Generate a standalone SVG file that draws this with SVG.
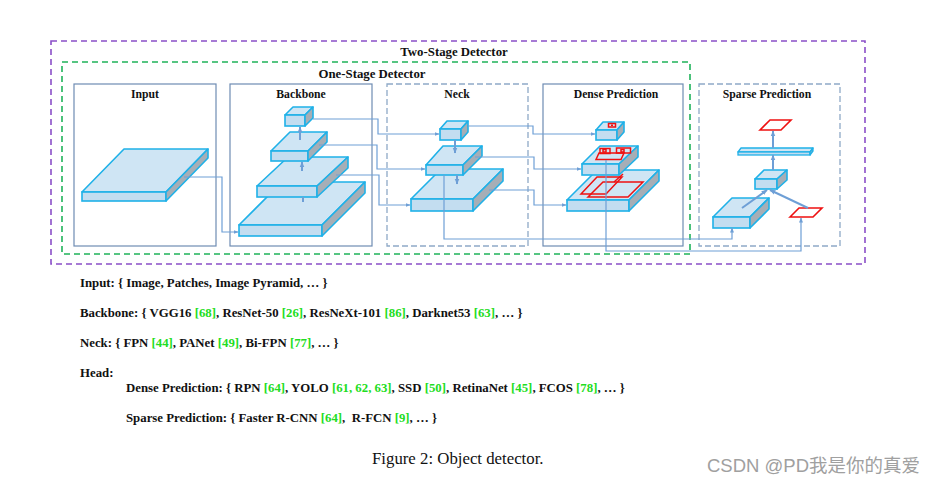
<svg xmlns="http://www.w3.org/2000/svg" width="936" height="485" viewBox="0 0 936 485">
<defs>
<style>
.bg{fill:#ffffff}
.outer{fill:none;stroke:#8a4fc8;stroke-width:1.6;stroke-dasharray:6,4}
.green{fill:none;stroke:#1fb35a;stroke-width:1.6;stroke-dasharray:6,4}
.solid{fill:#ffffff;stroke:#6e8cb3;stroke-width:1.2}
.dashed{fill:#ffffff;stroke:#8ea9c7;stroke-width:1.3;stroke-dasharray:6,3}
.top{fill:#cfe5f4;stroke:#1fb1e8;stroke-width:1.6;stroke-linejoin:round}
.front{fill:#c3ddf0;stroke:#1fb1e8;stroke-width:1.6}
.side{fill:#a6aeb6;stroke:#1fb1e8;stroke-width:1.6;stroke-linejoin:round}
.conn{fill:none;stroke:#6e9fd6;stroke-width:1.2}
.carr{fill:none;stroke:#6e9fd6;stroke-width:1.2;marker-end:url(#ah)}
.iarr{fill:none;stroke:#6e9fd6;stroke-width:2;marker-end:url(#ah2)}
.red{fill:none;stroke:#ee1111;stroke-width:1.5}
.redf{fill:#ffffff;stroke:#ee1111;stroke-width:1.6}
.t{font-family:"Liberation Serif","Times New Roman",serif;font-weight:bold;fill:#111}
.ttl{font-size:11.7px;text-anchor:middle}
.big{font-size:12.8px;text-anchor:middle}
.low{font-size:12.8px}
.ref{fill:#22dd22}
.cap{font-family:"Liberation Serif","Times New Roman",serif;font-size:16.8px;fill:#111}
.wm{font-family:"Liberation Sans","Noto Sans CJK SC",sans-serif;font-size:18.5px;fill:#a0a0a0}
</style>
<marker id="ah" viewBox="0 0 10 10" refX="9" refY="5" markerWidth="5" markerHeight="5" orient="auto" markerUnits="userSpaceOnUse"><path d="M0,1 L10,5 L0,9 z" fill="#6e9fd6"/></marker>
<marker id="ah2" viewBox="0 0 10 10" refX="9" refY="5" markerWidth="6" markerHeight="6" orient="auto" markerUnits="userSpaceOnUse"><path d="M0,1 L10,5 L0,9 z" fill="#6e9fd6"/></marker>
</defs>
<rect class="bg" x="0" y="0" width="936" height="485"/>

<g id="two-stage">
<rect class="outer" x="51" y="41" width="814" height="223"/>
<text class="t big" x="454" y="55.5">Two-Stage Detector</text>
</g>
<g id="one-stage">
<rect class="green" x="62" y="62" width="628" height="192"/>
<text class="t big" x="372" y="77.5">One-Stage Detector</text>
</g>

<g id="input">
<rect class="solid" x="74" y="84" width="142" height="162"/>
<text class="t ttl" x="145" y="97.5">Input</text>
<polygon class="top" points="82,192 124,149 208,149 166,192"/>
<rect class="front" x="82" y="192" width="84" height="9"/>
<polygon class="side" points="166,192 208,149 208,158 166,201"/>
</g>

<g id="backbone">
<rect class="solid" x="230" y="84" width="142" height="162"/>
<text class="t ttl" x="301" y="97.5">Backbone</text>
<polygon class="top" points="239,225 282,182 365,182 322,225"/>
<rect class="front" x="239" y="225" width="83" height="11"/>
<polygon class="side" points="322,225 365,182 365,193 322,236"/>
<polygon class="top" points="257,186 288,157 348,157 317,186"/>
<rect class="front" x="257" y="186" width="60" height="11"/>
<polygon class="side" points="317,186 348,157 348,168 317,197"/>
<polygon class="top" points="271,151 290,132 327,132 308,151"/>
<rect class="front" x="271" y="151" width="37" height="10"/>
<polygon class="side" points="308,151 327,132 327,142 308,161"/>
<polygon class="top" points="285,115 293,107 313,107 305,115"/>
<rect class="front" x="285" y="115" width="20" height="11"/>
<polygon class="side" points="305,115 313,107 313,118 305,126"/>
</g>

<g id="neck">
<rect class="dashed" x="387" y="84" width="141" height="162"/>
<text class="t ttl" x="457" y="97.5">Neck</text>
<polygon class="top" points="411,199 441,169 503,169 473,199"/>
<rect class="front" x="411" y="199" width="62" height="12"/>
<polygon class="side" points="473,199 503,169 503,181 473,211"/>
<polygon class="top" points="426,165 443,146 482,146 463,165"/>
<rect class="front" x="426" y="165" width="37" height="10"/>
<polygon class="side" points="463,165 482,146 482,156 463,175"/>
<polygon class="top" points="440,129 447,121 468,121 461,129"/>
<rect class="front" x="440" y="129" width="21" height="11"/>
<polygon class="side" points="461,129 468,121 468,132 461,140"/>
</g>

<g id="dense-prediction">
<rect class="solid" x="543" y="84" width="140" height="162"/>
<text class="t ttl" x="616" y="97.5">Dense Prediction</text>
<polygon class="top" points="567,200 597,170 659,170 629,200"/>
<rect class="front" x="567" y="200" width="62" height="11"/>
<polygon class="side" points="629,200 659,170 659,181 629,211"/>
<polygon class="red" points="581,194 597,177 622,177 606,194"/>
<polygon class="red" points="588,197 603,182 643,182 628,197"/>
<line class="red" x1="614" y1="182" x2="623" y2="174"/>
<polygon class="top" points="582,164 600,146 638,146 619,164"/>
<rect class="front" x="582" y="164" width="37" height="11"/>
<polygon class="side" points="619,164 638,146 638,157 619,175"/>
<rect class="red" x="600" y="148.5" width="10" height="5"/>
<rect class="red" x="616.5" y="148" width="14" height="5"/>
<rect class="red" x="603" y="149.5" width="3" height="2.5"/>
<rect class="red" x="621" y="149.5" width="3" height="2.5"/>
<polygon class="red" points="596,159.5 599,153 624,153 621,159.5"/>
<polygon class="top" points="596,130 603,122 624,122 617,130"/>
<rect class="front" x="596" y="130" width="21" height="10"/>
<polygon class="side" points="617,130 624,122 624,132 617,140"/>
<rect class="red" x="608.5" y="123.5" width="7" height="3.5"/>
<rect x="611" y="124.5" width="2" height="1.5" fill="#ee1111"/>
</g>

<g id="sparse-prediction">
<rect class="dashed" x="699" y="84" width="141" height="162"/>
<text class="t ttl" x="767" y="97.5">Sparse Prediction</text>
<polygon class="top" points="713,217 732,198 769,198 750,217"/>
<rect class="front" x="713" y="217" width="37" height="11"/>
<polygon class="side" points="750,217 769,198 769,209 750,228"/>
<polygon class="top" points="755,179 764,170 787,170 777,179"/>
<rect class="front" x="755" y="179" width="22" height="10"/>
<polygon class="side" points="777,179 787,170 787,180 777,189"/>
<polygon class="top" points="738,152 741,148 813,148 810,152" style="stroke-width:1.3"/>
<rect class="front" x="738" y="152" width="72" height="3" style="stroke-width:1.3"/>
<polygon class="side" points="810,152 813,148 813,151 810,155" style="stroke-width:1.3"/>
<polygon class="redf" points="760,130 770,120 791,120 781,130"/>
<polygon class="redf" points="790,217 799,208 822,208 813,217"/>
</g>

<g id="connectors">
<polyline class="carr" points="184,177 222,177 222,232 238,232"/>
<polyline class="carr" points="313,119 378,119 378,134 439,134"/>
<polyline class="carr" points="319,145 377,145 377,169 425,169"/>
<polyline class="carr" points="336,175 379,175 379,205 410,205"/>
<polyline class="carr" points="468,126 533,126 533,134 595,134"/>
<polyline class="carr" points="475,157 534,157 534,169 581,169"/>
<polyline class="carr" points="489,190 534,190 534,205 566,205"/>
<polyline class="carr" points="444,175 444,239 732,239 732,228"/>
<polyline class="carr" points="606,160 606,251 801,251 801,218"/>
<line class="iarr" x1="300" y1="140" x2="300" y2="127"/>
<line class="iarr" x1="302" y1="171" x2="302" y2="162"/>
<line class="conn" x1="303" y1="197" x2="303" y2="202" style="stroke-width:2"/>
<line class="iarr" x1="455" y1="140" x2="455" y2="153"/>
<line class="iarr" x1="457" y1="175" x2="457" y2="184"/>
<line class="iarr" x1="742" y1="208" x2="767" y2="190"/>
<line class="iarr" x1="808" y1="208" x2="770" y2="190"/>
<line class="iarr" x1="773" y1="170" x2="773" y2="155"/>
<line class="iarr" x1="773" y1="148" x2="773" y2="131"/>
</g>

<g id="legend">
<text class="t low" x="80" y="287">Input: { Image, Patches, Image Pyramid, … }</text>
<text class="t low" x="80" y="317">Backbone: { VGG16 <tspan class="ref">[68]</tspan>, ResNet-50 <tspan class="ref">[26]</tspan>, ResNeXt-101 <tspan class="ref">[86]</tspan>, Darknet53 <tspan class="ref">[63]</tspan>, … }</text>
<text class="t low" x="80" y="347">Neck: { FPN <tspan class="ref">[44]</tspan>, PANet <tspan class="ref">[49]</tspan>, Bi-FPN <tspan class="ref">[77]</tspan>, … }</text>
<text class="t low" x="80" y="377">Head:</text>
<text class="t low" x="126" y="392">Dense Prediction: { RPN <tspan class="ref">[64]</tspan>, YOLO <tspan class="ref">[61, 62, 63]</tspan>, SSD <tspan class="ref">[50]</tspan>, RetinaNet <tspan class="ref">[45]</tspan>, FCOS <tspan class="ref">[78]</tspan>, … }</text>
<text class="t low" x="126" y="422">Sparse Prediction: { Faster R-CNN <tspan class="ref">[64]</tspan>,&#160; R-FCN <tspan class="ref">[9]</tspan>, … }</text>
<text class="cap" x="372" y="463.5">Figure 2: Object detector.</text>
<text class="wm" x="707" y="471.5">CSDN @PD我是你的真爱</text>
</g>
</svg>
